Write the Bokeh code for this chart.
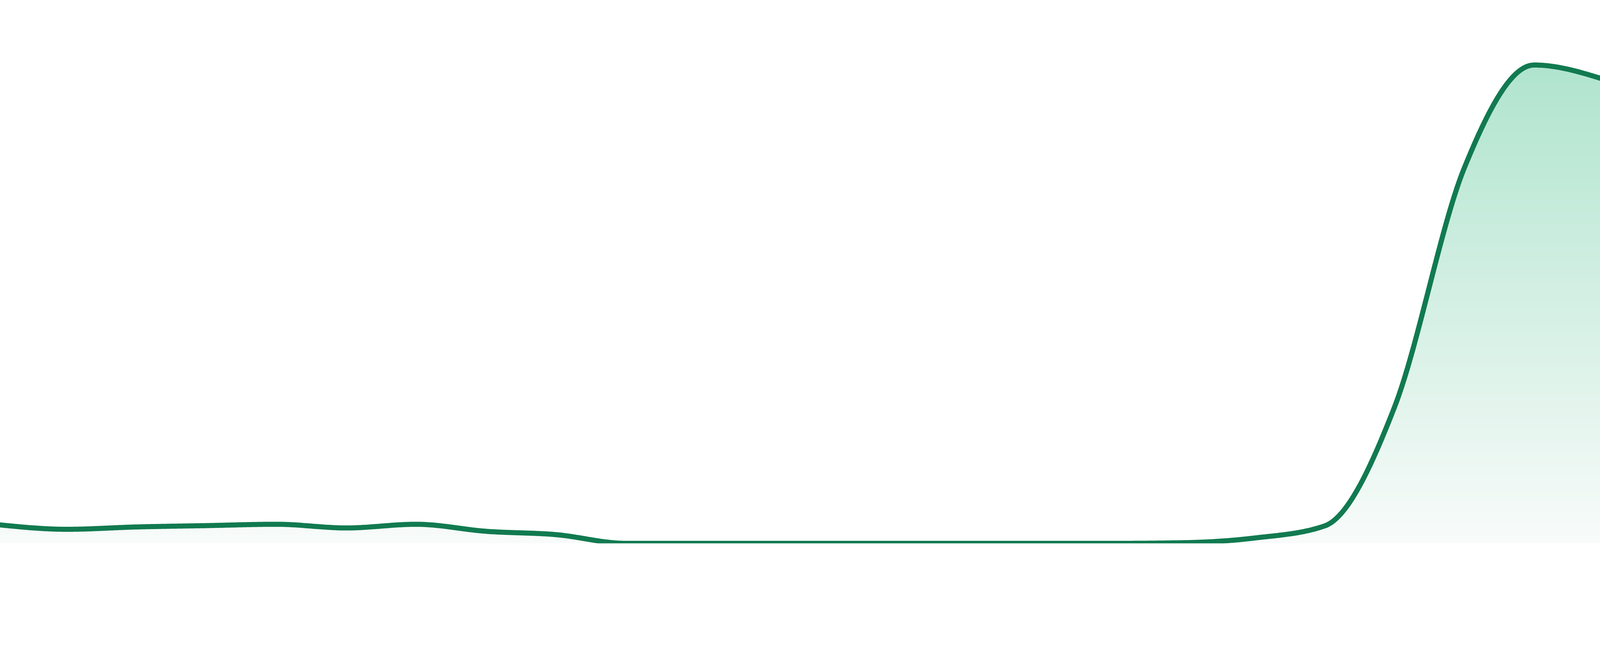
import numpy as np
from bokeh.plotting import figure
from bokeh.models import Range1d, ColumnDataSource
from bokeh.embed import file_html
from bokeh.resources import INLINE

# ---- data (arbitrary price-index units) ----
hours = list(range(24))
price_index = [5.6, 4.2, 4.9, 5.3, 5.7, 4.6, 5.7, 3.6, 2.6, 0.0,
               0.0, 0.0, 0.0, 0.0, 0.0, 0.0, 0.0, 0.2, 1.6, 5.2,
               40.7, 112.2, 142.9, 138.6]

LINE_COLOR = "#117a50"
GRAD_TOP = (176, 228, 206)
GRAD_BOTTOM = (248, 251, 250)


def monotone_x(x, y, n=48):
    """Monotone cubic (Steffen, as d3.curveMonotoneX) rendering of the series."""
    x = np.asarray(x, float)
    y = np.asarray(y, float)
    h = np.diff(x)
    s = np.diff(y) / h
    m = np.zeros_like(y)
    sg = lambda v: -1.0 if v < 0 else 1.0
    for i in range(1, len(y) - 1):
        p = (s[i - 1] * h[i] + s[i] * h[i - 1]) / (h[i - 1] + h[i])
        m[i] = (sg(s[i - 1]) + sg(s[i])) * min(abs(s[i - 1]), abs(s[i]), 0.5 * abs(p))
    m[0] = (3 * s[0] - m[1]) / 2
    m[-1] = (3 * s[-1] - m[-2]) / 2
    xs, ys = [], []
    t = np.linspace(0, 1, n, endpoint=False)
    h00 = 2 * t**3 - 3 * t**2 + 1
    h10 = t**3 - 2 * t**2 + t
    h01 = -2 * t**3 + 3 * t**2
    h11 = t**3 - t**2
    for i in range(len(h)):
        xs.append(x[i] + t * h[i])
        ys.append(h00 * y[i] + h10 * h[i] * m[i] + h01 * y[i + 1] + h11 * h[i] * m[i + 1])
    xs.append([x[-1]])
    ys.append([y[-1]])
    return np.concatenate(xs), np.concatenate(ys)


cx, cy = monotone_x(hours, price_index)

p = figure(width=4114, height=1640,
           x_range=Range1d(hours[0], hours[-1]), y_range=Range1d(0, 163.2),
           x_axis_type=None, y_axis_type=None,
           toolbar_location=None, output_backend="svg",
           min_border=0, min_border_bottom=241, outline_line_color=None,
           background_fill_color="white", border_fill_color="white")
p.grid.visible = False
p.styles = {"margin": "-8px 0 0 -8px"}

# gradient fill under the curve (horizontal colour bands, top colour at the maximum)
vmax = max(price_index)
N = 160
for i in range(N):
    lo = vmax * i / N
    tc = (i + 0.5) / N
    col = tuple(int(round(GRAD_BOTTOM[k] + tc * (GRAD_TOP[k] - GRAD_BOTTOM[k]))) for k in range(3))
    mask = cy > lo
    if not mask.any():
        continue
    idx = np.where(mask)[0]
    a, b = max(idx[0] - 1, 0), min(idx[-1] + 2, len(cx))
    src = ColumnDataSource(dict(x=cx[a:b], y1=np.full(b - a, lo),
                                y2=np.maximum(cy[a:b], lo)))
    p.varea(x="x", y1="y1", y2="y2", source=src,
            fill_color="#%02x%02x%02x" % col, fill_alpha=1.0)

p.line(cx, cy, line_color=LINE_COLOR, line_width=13, line_join="round")

open("out.html", "w").write(file_html(p, INLINE))
